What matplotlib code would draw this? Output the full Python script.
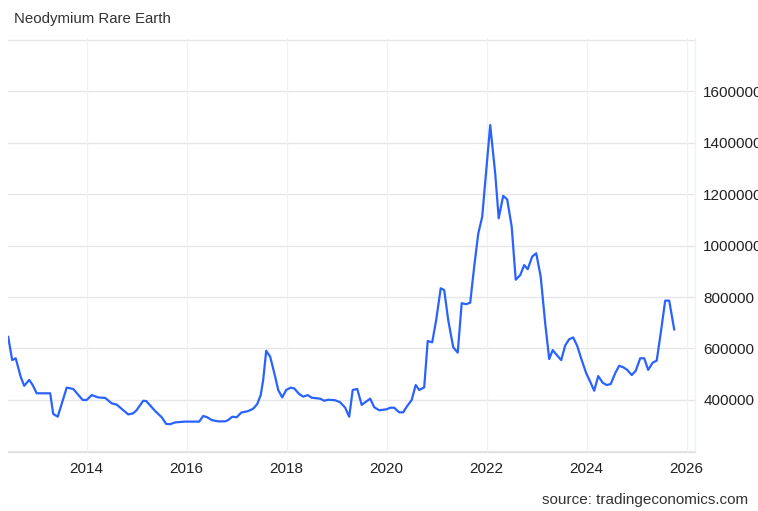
import matplotlib
matplotlib.use("Agg")
import matplotlib.pyplot as plt
from matplotlib.ticker import FixedLocator, FuncFormatter

plt.rcParams['font.family'] = ['Liberation Sans', 'DejaVu Sans']

title = "Neodymium Rare Earth"
source = "source: tradingeconomics.com"

# decimal year, value (CNY/T)
years = [2012.43, 2012.51, 2012.58, 2012.68, 2012.75, 2012.85, 2012.92, 2013.0, 2013.27,
         2013.33, 2013.42, 2013.6, 2013.73, 2013.92, 2014.0, 2014.1, 2014.23, 2014.37,
         2014.5, 2014.6, 2014.83, 2014.93, 2015.0, 2015.13, 2015.19, 2015.37, 2015.5,
         2015.59, 2015.67, 2015.77, 2015.97, 2016.25, 2016.33, 2016.41, 2016.5, 2016.63,
         2016.77, 2016.83, 2016.91, 2017.0, 2017.09, 2017.23, 2017.33, 2017.41, 2017.48,
         2017.53, 2017.59, 2017.67, 2017.77, 2017.83, 2017.91, 2017.99, 2018.08, 2018.15,
         2018.25, 2018.33, 2018.42, 2018.5, 2018.67, 2018.75, 2018.83, 2018.97, 2019.07,
         2019.17, 2019.25, 2019.32, 2019.41, 2019.5, 2019.59, 2019.67, 2019.75, 2019.85,
         2020.0, 2020.07, 2020.15, 2020.25, 2020.33, 2020.4, 2020.5, 2020.58, 2020.65,
         2020.75, 2020.82, 2020.91, 2020.99, 2021.08, 2021.15, 2021.23, 2021.33, 2021.42,
         2021.5, 2021.59, 2021.67, 2021.75, 2021.83, 2021.91, 2022.07, 2022.17, 2022.24,
         2022.33, 2022.41, 2022.5, 2022.58, 2022.67, 2022.75, 2022.82, 2022.91, 2022.99,
         2023.08, 2023.17, 2023.25, 2023.32, 2023.4, 2023.49, 2023.57, 2023.65, 2023.73,
         2023.81, 2023.9, 2023.99, 2024.07, 2024.15, 2024.23, 2024.32, 2024.4, 2024.48,
         2024.57, 2024.65, 2024.73, 2024.81, 2024.9, 2024.98, 2025.07, 2025.15, 2025.23,
         2025.32, 2025.4, 2025.48, 2025.57, 2025.65, 2025.75]
values = [645000, 555000, 562000, 490000, 455000, 478000, 458000, 426000, 426000,
          346000, 335000, 448000, 443000, 400000, 400000, 419000, 410000, 408000,
          387000, 382000, 344000, 348000, 361000, 397000, 396000, 357000, 333000,
          307000, 306000, 313000, 316000, 316000, 338000, 333000, 322000, 317000,
          317000, 322000, 335000, 333000, 351000, 357000, 366000, 384000, 419000,
          478000, 591000, 568000, 490000, 439000, 410000, 439000, 448000, 445000,
          423000, 413000, 419000, 409000, 405000, 397000, 401000, 399000, 391000,
          370000, 335000, 439000, 443000, 381000, 394000, 405000, 372000, 360000,
          364000, 370000, 370000, 352000, 352000, 374000, 400000, 458000, 439000,
          449000, 629000, 624000, 711000, 834000, 827000, 711000, 605000, 584000,
          776000, 772000, 778000, 918000, 1045000, 1112000, 1468000, 1280000, 1106000,
          1193000, 1179000, 1073000, 867000, 885000, 924000, 908000, 957000, 970000,
          879000, 698000, 559000, 594000, 575000, 555000, 612000, 636000, 643000,
          610000, 555000, 504000, 471000, 436000, 493000, 467000, 458000, 462000,
          504000, 533000, 527000, 517000, 497000, 513000, 562000, 562000, 517000,
          545000, 553000, 659000, 786000, 786000, 674000]

x_ticks = [2014, 2016, 2018, 2020, 2022, 2024, 2026]
y_ticks = [400000, 600000, 800000, 1000000, 1200000, 1400000, 1600000]
y_grid = [200000, 400000, 600000, 800000, 1000000, 1200000, 1400000, 1600000, 1800000]

fig = plt.figure(figsize=(7.58, 5.11), dpi=100)
ax = fig.add_axes([8/758, 1-452/511, (695-8)/758, (452-38)/511])

ax.plot(years, values, color='#2962ff', lw=1.6, solid_joinstyle='round', zorder=3)

ax.set_xlim(2012.426, 2026.166)
ax.set_ylim(198000, 1806000)

for yv in y_grid:
    ax.axhline(yv, color='#e6e6e6', lw=0.9, zorder=1)
for xv in x_ticks:
    ax.axvline(xv, color='#eef2f6', lw=0.9, zorder=1)

ax.xaxis.set_major_locator(FixedLocator(x_ticks))
ax.yaxis.set_major_locator(FixedLocator(y_ticks))
ax.yaxis.set_major_formatter(FuncFormatter(lambda v, p: f"{int(v)}"))
ax.yaxis.tick_right()
ax.tick_params(axis='y', length=0, pad=6, labelsize=11, labelcolor='#222222')
ax.tick_params(axis='x', length=0, pad=7, labelsize=11, labelcolor='#222222')

for s in ['left', 'top']:
    ax.spines[s].set_visible(False)
ax.spines['bottom'].set_color('#e0e0e0')
ax.spines['right'].set_color('#eef2f6')
ax.spines['bottom'].set_linewidth(0.9)
ax.spines['right'].set_linewidth(0.9)

fig.text(14/758, 1-19.5/511, title, fontsize=10.8, color='#333333', va='center', ha='left')
fig.text(748/758, 1-499.5/511, source, fontsize=11, color='#333333', va='center', ha='right')

fig.savefig("out.png", dpi=100)
